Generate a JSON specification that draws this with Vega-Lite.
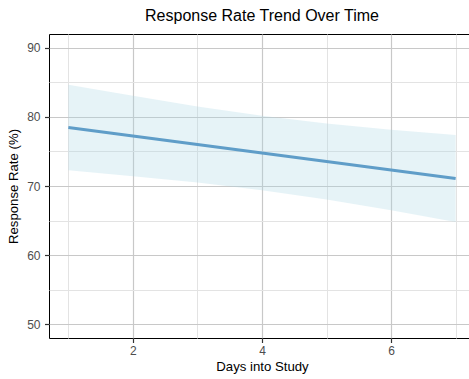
{
  "$schema": "https://vega.github.io/schema/vega-lite/v6.json",
  "width": 426,
  "height": 304,
  "autosize": "none",
  "padding": {"left": 49, "top": 34, "right": 0, "bottom": 41},
  "background": "white",
  "title": {"text": "Response Rate Trend Over Time", "fontSize": 16, "fontWeight": "normal", "font": "Liberation Sans", "color": "black", "offset": 10, "anchor": "middle"},
  "config": {
    "view": {"stroke": "black", "strokeWidth": 1},
    "axis": {"domain": false, "labelFont": "Liberation Sans", "titleFont": "Liberation Sans", "labelColor": "#4d4d4d", "labelFontSize": 12, "titleFontSize": 13.2, "titleFontWeight": "normal", "titleColor": "black", "tickColor": "#333333", "tickSize": 4.5, "tickWidth": 1.2}
  },
  "data": {"values": [
    {"day": 1, "fit": 78.47, "lo": 72.27, "hi": 84.67},
    {"day": 2, "fit": 77.24, "lo": 71.42, "hi": 83.06},
    {"day": 3, "fit": 76.01, "lo": 70.50, "hi": 81.52},
    {"day": 4, "fit": 74.78, "lo": 69.38, "hi": 80.18},
    {"day": 5, "fit": 73.55, "lo": 68.04, "hi": 79.06},
    {"day": 6, "fit": 72.32, "lo": 66.50, "hi": 78.14},
    {"day": 7, "fit": 71.09, "lo": 64.79, "hi": 77.39}
  ]},
  "layer": [
    {
      "mark": {"type": "point", "opacity": 0},
      "encoding": {
        "x": {"field": "day", "type": "quantitative", "scale": {"domain": [0.7, 7.3], "nice": false, "zero": false},
              "axis": {"orient": "bottom", "values": [1, 3, 5, 7], "labels": false, "ticks": false, "title": null, "grid": true, "gridColor": "#e3e3e3", "gridWidth": 1}},
        "y": {"field": "fit", "type": "quantitative", "scale": {"domain": [48, 92], "nice": false, "zero": false},
              "axis": {"orient": "left", "values": [55, 65, 75, 85], "labels": false, "ticks": false, "title": null, "grid": true, "gridColor": "#e3e3e3", "gridWidth": 1}}
      }
    },
    {
      "mark": {"type": "area", "fill": "#add8e6", "opacity": 0.3},
      "encoding": {
        "x": {"field": "day", "type": "quantitative",
              "axis": {"orient": "bottom", "values": [2, 4, 6], "title": "Days into Study", "grid": true, "gridColor": "#c8c8c8", "gridWidth": 1.2, "labelPadding": 2.5, "titlePadding": 4}},
        "y": {"field": "lo", "type": "quantitative",
              "axis": {"orient": "left", "values": [50, 60, 70, 80, 90], "title": "Response Rate (%)", "grid": true, "gridColor": "#c8c8c8", "gridWidth": 1.2, "labelPadding": 4.5, "titlePadding": 6}},
        "y2": {"field": "hi"}
      }
    },
    {
      "mark": {"type": "line", "color": "#5f9dc8", "strokeWidth": 3},
      "encoding": {
        "x": {"field": "day", "type": "quantitative", "axis": null},
        "y": {"field": "fit", "type": "quantitative", "axis": null}
      }
    }
  ],
  "resolve": {"axis": {"x": "independent", "y": "independent"}}
}
